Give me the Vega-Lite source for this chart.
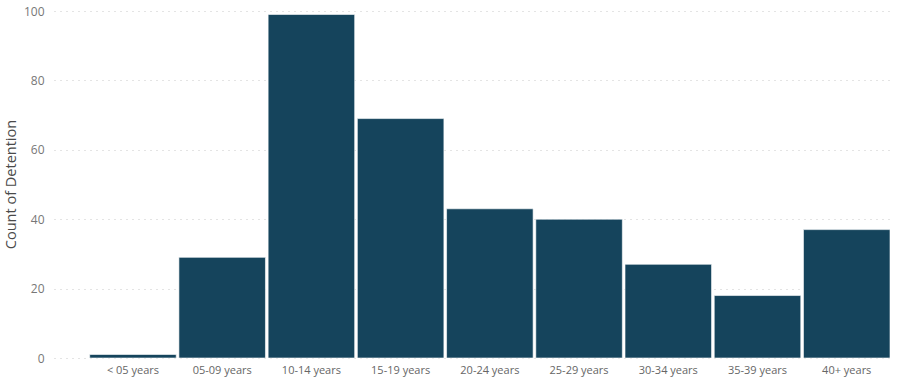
{
  "$schema": "https://vega.github.io/schema/vega-lite/v6.json",
  "width": 836,
  "height": 347,
  "autosize": {"type": "none"},
  "padding": {"left": 54, "top": 11, "right": 8, "bottom": 24},
  "background": "#ffffff",
  "config": {
    "view": {"stroke": null},
    "font": "Open Sans"
  },
  "data": {
    "values": [
      {"age": "< 05 years", "count": 1},
      {"age": "05-09 years", "count": 29},
      {"age": "10-14 years", "count": 99},
      {"age": "15-19 years", "count": 69},
      {"age": "20-24 years", "count": 43},
      {"age": "25-29 years", "count": 40},
      {"age": "30-34 years", "count": 27},
      {"age": "35-39 years", "count": 18},
      {"age": "40+ years", "count": 37}
    ]
  },
  "mark": {"type": "bar", "color": "#15445C", "stroke": "#ffffff", "strokeOpacity": 0.6, "strokeWidth": 1},
  "encoding": {
    "x": {
      "field": "age",
      "type": "nominal",
      "sort": null,
      "scale": {"paddingInner": 0.03, "paddingOuter": 0.2, "align": 1},
      "axis": {
        "title": null,
        "labelAngle": 0,
        "labelColor": "#666666",
        "labelFontSize": 11,
        "labelPadding": 6,
        "ticks": false,
        "domain": false,
        "grid": false
      }
    },
    "y": {
      "field": "count",
      "type": "quantitative",
      "scale": {"domain": [0, 100], "nice": false},
      "axis": {
        "title": "Count of Detention",
        "titleFontSize": 14.5,
        "titleFontWeight": "normal",
        "titleColor": "#4a4a4a",
        "titleX": -36,
        "titleY": 173,
        "values": [0, 20, 40, 60, 80, 100],
        "labelColor": "#777777",
        "labelFontSize": 12,
        "labelPadding": 10,
        "ticks": false,
        "domain": false,
        "grid": true,
        "gridColor": "#c8c8c8",
        "gridDash": [1, 5],
        "gridWidth": 1
      }
    }
  }
}
